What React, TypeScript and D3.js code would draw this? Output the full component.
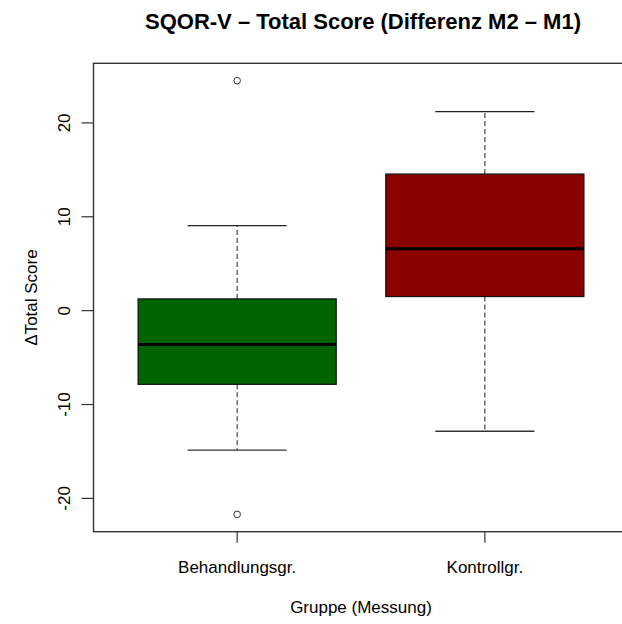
import React from "react";
import * as d3 from "d3";

const groups = ["Behandlungsgr.", "Kontrollgr."];
const colors = ["#006400", "#8B0000"];
const whiskerLow = [-14.85, -12.85];
const q1 = [-7.85, 1.5];
const medians = [-3.6, 6.6];
const q3 = [1.25, 14.55];
const whiskerHigh = [9.05, 21.2];
const outliers = [[24.5, -21.7], []];

const title = "SQOR-V \u2013 Total Score (Differenz M2 \u2013 M1)";
const yLabel = "\u0394Total Score";
const xLabel = "Gruppe (Messung)";

const W = 622, H = 624;
const left = 93.5, right = 628.5, top = 63.3, bottom = 531.7;
const FONT = "'Liberation Sans', Arial, sans-serif";

export default function App() {
  const allVals = [
    ...whiskerLow, ...whiskerHigh, ...q1, ...q3, ...medians,
    ...outliers.flat(),
  ];
  const [mn, mx] = d3.extent(allVals) as [number, number];
  const ext = (mx - mn) * 0.04;
  const y = d3.scaleLinear().domain([mn - ext, mx + ext]).range([bottom, top]);
  const n = groups.length;
  const x = d3.scaleLinear().domain([0.5 - 0.08, n + 0.5 + 0.08]).range([left, right]);
  const boxW = 0.8;
  const yTicks = y.ticks(5);
  const cx = (left + right) / 2;

  return (
    <svg width={W} height={H} style={{ position: "absolute", left: 0, top: 0, background: "#fff" }}>
      <rect x={0} y={0} width={W} height={H} fill="#fff" />
      <text x={cx + 2} y={29} textAnchor="middle" fontFamily={FONT} fontWeight="bold" fontSize={22} fill="#000">
        {title}
      </text>
      {groups.map((g, i) => {
        const c = x(i + 1);
        const bl = x(i + 1 - boxW / 2);
        const br = x(i + 1 + boxW / 2);
        const sl = x(i + 1 - boxW / 4);
        const sr = x(i + 1 + boxW / 4);
        return (
          <g key={g}>
            <line x1={c} x2={c} y1={y(q3[i])} y2={y(whiskerHigh[i])} stroke="#444" strokeWidth={1.2} strokeDasharray="5,3" />
            <line x1={c} x2={c} y1={y(q1[i])} y2={y(whiskerLow[i])} stroke="#444" strokeWidth={1.2} strokeDasharray="5,3" />
            <line x1={sl} x2={sr} y1={y(whiskerHigh[i])} y2={y(whiskerHigh[i])} stroke="#222" strokeWidth={1.3} />
            <line x1={sl} x2={sr} y1={y(whiskerLow[i])} y2={y(whiskerLow[i])} stroke="#333" strokeWidth={1.3} />
            <rect x={bl} y={y(q3[i])} width={br - bl} height={y(q1[i]) - y(q3[i])} fill={colors[i]} stroke="#111" strokeWidth={1.2} />
            <line x1={bl} x2={br} y1={y(medians[i])} y2={y(medians[i])} stroke="#000" strokeWidth={3} />
            {outliers[i].map((v, k) => (
              <circle key={k} cx={c} cy={y(v)} r={3.3} fill="none" stroke="#333" strokeWidth={1} />
            ))}
            <line x1={c} x2={c} y1={bottom} y2={bottom + 11} stroke="#333" strokeWidth={1.2} />
            <text x={c} y={573} textAnchor="middle" fontFamily={FONT} fontSize={17} fill="#000">{g}</text>
          </g>
        );
      })}
      {yTicks.map((t) => (
        <g key={t}>
          <line x1={left - 12} x2={left} y1={y(t)} y2={y(t)} stroke="#333" strokeWidth={1.2} />
          <text transform={`translate(70,${y(t)}) rotate(-90)`} textAnchor="middle" fontFamily={FONT} fontSize={17} fill="#000">{t}</text>
        </g>
      ))}
      <rect x={left} y={top} width={right - left} height={bottom - top} fill="none" stroke="#333" strokeWidth={1.4} />
      <text transform={`translate(36.5,${(top + bottom) / 2}) rotate(-90)`} textAnchor="middle" fontFamily={FONT} fontSize={17} fill="#000">{yLabel}</text>
      <text x={361} y={613} textAnchor="middle" fontFamily={FONT} fontSize={17} fill="#000">{xLabel}</text>
    </svg>
  );
}
